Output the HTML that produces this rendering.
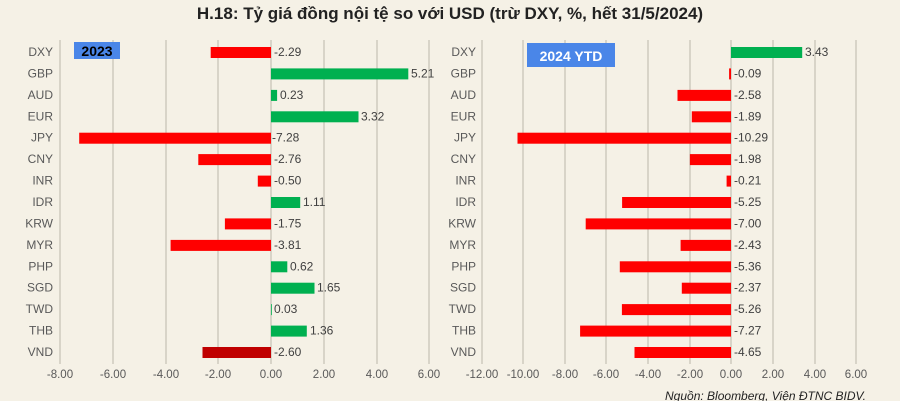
<!DOCTYPE html>
<html><head><meta charset="utf-8"><style>
body{margin:0;background:#f5f1e6;}
svg{display:block;font-family:"Liberation Sans",sans-serif;}
.c{font-size:12px;fill:#595959;text-anchor:end}
.v{font-size:12px;fill:#404040}
.t{font-size:11.5px;fill:#595959;text-anchor:middle}
.g{stroke:#c9c4b8;stroke-width:1.3}
</style></head><body>
<svg width="900" height="401" viewBox="0 0 900 401">
<rect width="900" height="401" fill="#f5f1e6"/>
<text x="450" y="19" text-anchor="middle" font-size="17" font-weight="bold" fill="#222">H.18: Tỷ giá đồng nội tệ so với USD (trừ DXY, %, hết 31/5/2024)</text>
<g class="g">
<line x1="60" y1="40" x2="60" y2="364"/><line x1="113" y1="40" x2="113" y2="364"/><line x1="166" y1="40" x2="166" y2="364"/><line x1="218" y1="40" x2="218" y2="364"/><line x1="271" y1="40" x2="271" y2="364"/><line x1="324" y1="40" x2="324" y2="364"/><line x1="377" y1="40" x2="377" y2="364"/><line x1="429" y1="40" x2="429" y2="364"/>
<line x1="482" y1="40" x2="482" y2="364"/><line x1="523" y1="40" x2="523" y2="364"/><line x1="565" y1="40" x2="565" y2="364"/><line x1="606" y1="40" x2="606" y2="364"/><line x1="648" y1="40" x2="648" y2="364"/><line x1="690" y1="40" x2="690" y2="364"/><line x1="731" y1="40" x2="731" y2="364"/><line x1="773" y1="40" x2="773" y2="364"/><line x1="815" y1="40" x2="815" y2="364"/><line x1="856" y1="40" x2="856" y2="364"/>
</g>
<rect x="74" y="42" width="46" height="17" fill="#4a86e8"/>
<text x="97" y="56" text-anchor="middle" font-size="14" font-weight="bold" fill="#000">2023</text>
<rect x="527" y="43" width="88" height="24" fill="#4a86e8"/>
<text x="571" y="61" text-anchor="middle" font-size="14" font-weight="bold" fill="#fff">2024 YTD</text>
<g>
<rect x="210.7" y="47" width="60.3" height="11" fill="#ff0000"/>
<rect x="271" y="68.4" width="137.3" height="11" fill="#00b050"/>
<rect x="271" y="89.9" width="6.1" height="11" fill="#00b050"/>
<rect x="271" y="111.3" width="87.5" height="11" fill="#00b050"/>
<rect x="79.2" y="132.7" width="191.8" height="11" fill="#ff0000"/>
<rect x="198.3" y="154.1" width="72.7" height="11" fill="#ff0000"/>
<rect x="257.8" y="175.6" width="13.2" height="11" fill="#ff0000"/>
<rect x="271" y="197" width="29.2" height="11" fill="#00b050"/>
<rect x="224.9" y="218.4" width="46.1" height="11" fill="#ff0000"/>
<rect x="170.6" y="239.9" width="100.4" height="11" fill="#ff0000"/>
<rect x="271" y="261.3" width="16.3" height="11" fill="#00b050"/>
<rect x="271" y="282.7" width="43.5" height="11" fill="#00b050"/>
<rect x="271" y="304.1" width="0.8" height="11" fill="#00b050"/>
<rect x="271" y="325.6" width="35.8" height="11" fill="#00b050"/>
<rect x="202.5" y="347" width="68.5" height="11" fill="#c00000"/>
</g>
<g class="c">
<text x="53" y="56">DXY</text><text x="53" y="77.4">GBP</text><text x="53" y="98.9">AUD</text><text x="53" y="120.3">EUR</text><text x="53" y="141.7">JPY</text><text x="53" y="163.1">CNY</text><text x="53" y="184.6">INR</text><text x="53" y="206">IDR</text><text x="53" y="227.4">KRW</text><text x="53" y="248.9">MYR</text><text x="53" y="270.3">PHP</text><text x="53" y="291.7">SGD</text><text x="53" y="313.1">TWD</text><text x="53" y="334.6">THB</text><text x="53" y="356">VND</text>
<text x="476" y="56">DXY</text><text x="476" y="77.4">GBP</text><text x="476" y="98.9">AUD</text><text x="476" y="120.3">EUR</text><text x="476" y="141.7">JPY</text><text x="476" y="163.1">CNY</text><text x="476" y="184.6">INR</text><text x="476" y="206">IDR</text><text x="476" y="227.4">KRW</text><text x="476" y="248.9">MYR</text><text x="476" y="270.3">PHP</text><text x="476" y="291.7">SGD</text><text x="476" y="313.1">TWD</text><text x="476" y="334.6">THB</text><text x="476" y="356">VND</text>
</g>
<g class="v">
<text x="274" y="56">-2.29</text><text x="411" y="77.4">5.21</text><text x="280" y="98.9">0.23</text><text x="361" y="120.3">3.32</text><text x="272" y="141.7">-7.28</text><text x="274" y="163.1">-2.76</text><text x="274" y="184.6">-0.50</text><text x="303" y="206">1.11</text><text x="274" y="227.4">-1.75</text><text x="274" y="248.9">-3.81</text><text x="290" y="270.3">0.62</text><text x="317" y="291.7">1.65</text><text x="274" y="313.1">0.03</text><text x="310" y="334.6">1.36</text><text x="274" y="356">-2.60</text>
<text x="805" y="56">3.43</text><text x="734" y="77.4">-0.09</text><text x="734" y="98.9">-2.58</text><text x="734" y="120.3">-1.89</text><text x="734" y="141.7">-10.29</text><text x="734" y="163.1">-1.98</text><text x="734" y="184.6">-0.21</text><text x="734" y="206">-5.25</text><text x="734" y="227.4">-7.00</text><text x="734" y="248.9">-2.43</text><text x="734" y="270.3">-5.36</text><text x="734" y="291.7">-2.37</text><text x="734" y="313.1">-5.26</text><text x="734" y="334.6">-7.27</text><text x="734" y="356">-4.65</text>
</g>
<g>
<rect x="731" y="47" width="71.2" height="11" fill="#00b050"/>
<rect x="729.1" y="68.4" width="1.9" height="11" fill="#ff0000"/>
<rect x="677.5" y="89.9" width="53.5" height="11" fill="#ff0000"/>
<rect x="691.8" y="111.3" width="39.2" height="11" fill="#ff0000"/>
<rect x="517.5" y="132.7" width="213.5" height="11" fill="#ff0000"/>
<rect x="689.9" y="154.1" width="41.1" height="11" fill="#ff0000"/>
<rect x="726.6" y="175.6" width="4.4" height="11" fill="#ff0000"/>
<rect x="622.1" y="197" width="108.9" height="11" fill="#ff0000"/>
<rect x="585.7" y="218.4" width="145.3" height="11" fill="#ff0000"/>
<rect x="680.6" y="239.9" width="50.4" height="11" fill="#ff0000"/>
<rect x="619.8" y="261.3" width="111.2" height="11" fill="#ff0000"/>
<rect x="681.8" y="282.7" width="49.2" height="11" fill="#ff0000"/>
<rect x="621.9" y="304.1" width="109.1" height="11" fill="#ff0000"/>
<rect x="580.1" y="325.6" width="150.9" height="11" fill="#ff0000"/>
<rect x="634.5" y="347" width="96.5" height="11" fill="#ff0000"/>
</g>
<g class="t">
<text x="60" y="378">-8.00</text><text x="113" y="378">-6.00</text><text x="166" y="378">-4.00</text><text x="218" y="378">-2.00</text><text x="271" y="378">0.00</text><text x="324" y="378">2.00</text><text x="377" y="378">4.00</text><text x="429" y="378">6.00</text>
<text x="482" y="378">-12.00</text><text x="523" y="378">-10.00</text><text x="565" y="378">-8.00</text><text x="606" y="378">-6.00</text><text x="648" y="378">-4.00</text><text x="690" y="378">-2.00</text><text x="731" y="378">0.00</text><text x="773" y="378">2.00</text><text x="815" y="378">4.00</text><text x="856" y="378">6.00</text>
</g>
<text x="866" y="400" text-anchor="end" font-size="12" font-style="italic" fill="#222">Nguồn: Bloomberg, Viện ĐTNC BIDV.</text>
</svg>
</body></html>
